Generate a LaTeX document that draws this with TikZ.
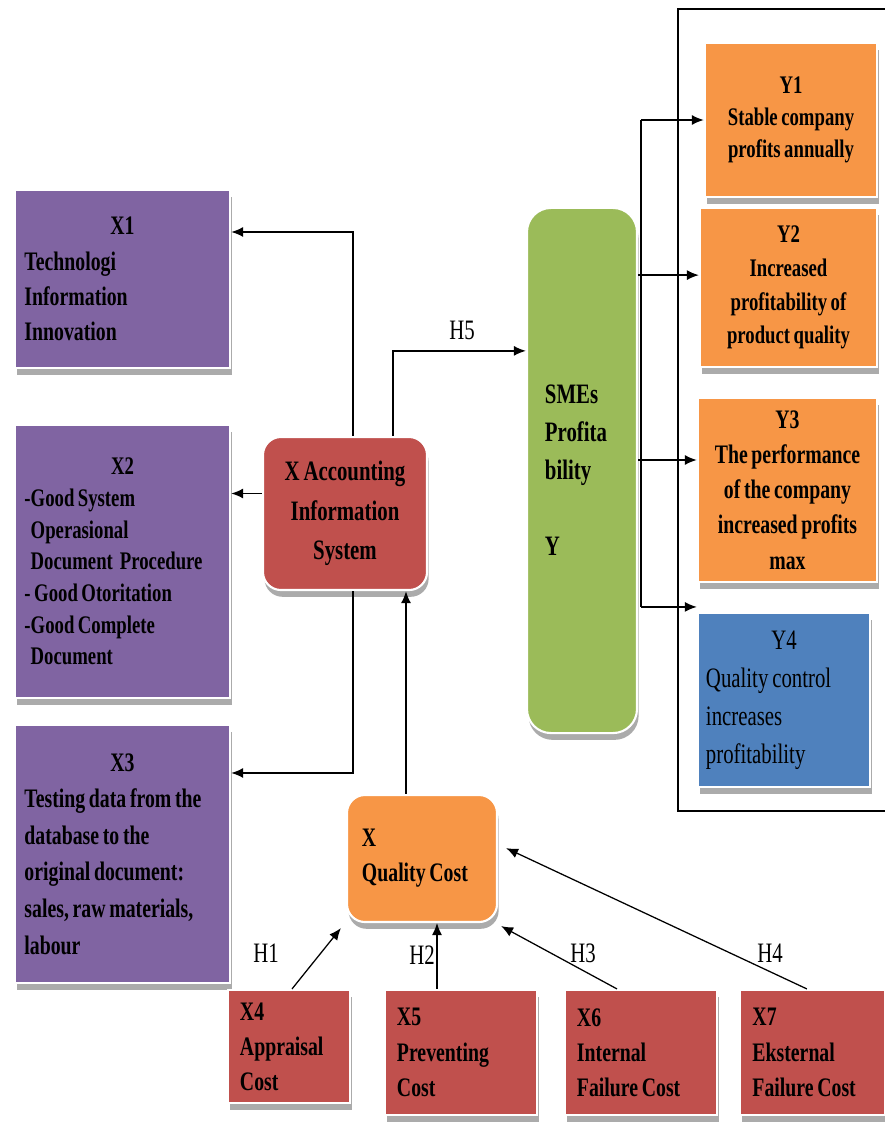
\documentclass[tikz,border=0pt]{standalone}
\usepackage{fontspec}
\setmainfont{Liberation Serif}[FakeStretch=0.74, WordSpace=0.75]
\usetikzlibrary{arrows.meta, shadows}

\definecolor{boxpurple}{HTML}{8064A2}
\definecolor{boxred}{HTML}{C0504D}
\definecolor{boxorange}{HTML}{F79646}
\definecolor{boxgreen}{HTML}{9BBB59}
\definecolor{boxblue}{HTML}{4F81BD}

\begin{document}
\begin{tikzpicture}[
    x=0.025cm, y=-0.025cm,
    box/.style={
            draw=white,
            line width=1.5pt,
            drop shadow={shadow xshift=0.04cm, shadow yshift=-0.17cm, fill=black!60, opacity=0.55},
            inner sep=0pt,
            font=\bfseries\fontsize{19}{25}\selectfont
        },
    xbox/.style={box, fill=boxpurple, minimum width=5.375cm},
    ybox/.style={box, fill=boxorange, align=center},
    costbox/.style={box, fill=boxred, minimum height=3.125cm},
    hub/.style={box, rounded corners=0.45cm},
    arrow/.style={-{Latex[length=3mm, width=2.5mm]}, line width=1.2pt},
    harrow/.style={arrow, line width=0.9pt},
    hlabel/.style={inner sep=0pt, font=\fontsize{20}{24}\selectfont},
    ]

    \path[use as bounding box, fill=white] (0,0) rectangle (885,1131);

    % --- Indicator frame ---
    \draw[line width=1.2pt] (885,9) -- (678,9) -- (678,811) -- (885,811);

    % --- X indicators ---
    \node[xbox, minimum height=4.45cm] (x1) at (122.5,279)
        {\parbox{4.9cm}{\centering X1\par\raggedright Technologi\\Information\\Innovation}};
    \node[xbox, minimum height=6.825cm, font=\bfseries\fontsize{18}{22.5}\selectfont] (x2) at (122.5,561.5)
        {\parbox{4.9cm}{\centering X2\par\raggedright -Good System\\\phantom{-}Operasional\\\phantom{-}Document~~Procedure\\- Good Otoritation\\-Good Complete\\\phantom{-}Document}};
    \node[xbox, minimum height=6.45cm, font=\bfseries\fontsize{19}{26}\selectfont] (x3) at (122.5,854)
        {\parbox{4.9cm}{\centering X3\par\raggedright Testing data from the\\database to the\\original document:\\sales, raw materials,\\labour}};

    % --- Variables ---
    \node[hub, fill=boxred, minimum width=4.1cm, minimum height=3.825cm, align=center,
        font=\bfseries\fontsize{20}{28}\selectfont] (ais) at (345,513.5) {X Accounting\\Information\\System};
    \node[hub, fill=boxorange, minimum width=3.75cm, minimum height=3.175cm] (qc) at (422,858.5)
        {\parbox{3cm}{\raggedright X\\Quality Cost}};
    \node[hub, rounded corners=0.6cm, fill=boxgreen, minimum width=2.75cm, minimum height=13.125cm,
        font=\bfseries\fontsize{20}{27}\selectfont] (sme) at (582,470.5)
        {\parbox{1.85cm}{\raggedright SMEs\\Profita\\bility\\[27pt]Y}};

    % --- Y indicators ---
    \node[ybox, minimum width=4.3cm, minimum height=3.85cm, font=\bfseries\fontsize{18}{23}\selectfont] (y1) at (791,120)
        {Y1\\Stable company\\profits annually};
    \node[ybox, minimum width=4.425cm, minimum height=3.975cm, font=\bfseries\fontsize{18}{24}\selectfont] (y2) at (788.5,287.5)
        {Y2\\Increased\\profitability of\\product quality};
    \node[ybox, minimum width=4.475cm, minimum height=4.6cm] (y3) at (787.5,490)
        {Y3\\The performance\\of the company\\increased profits\\max};
    \node[box, fill=boxblue, minimum width=4.3cm, minimum height=4.35cm, font=\fontsize{20}{27}\selectfont] (y4) at (784,700)
        {\parbox{3.9cm}{\centering Y4\par\raggedright Quality control\\increases\\profitability}};

    % --- Quality cost items ---
    \node[costbox, minimum width=3.05cm, minimum height=2.825cm] (x4) at (289,1046.5)
        {\parbox{2.45cm}{\raggedright X4\\Appraisal\\Cost}};
    \node[costbox, minimum width=3.8cm] (x5) at (461,1052.5)
        {\parbox{3.2cm}{\raggedright X5\\Preventing\\Cost}};
    \node[costbox, minimum width=3.8cm] (x6) at (641,1052.5)
        {\parbox{3.2cm}{\raggedright X6\\Internal\\Failure Cost}};
    \node[costbox, minimum width=3.625cm] (x7) at (812.5,1052.5)
        {\parbox{3cm}{\raggedright X7\\Eksternal\\Failure Cost}};

    % --- Labels ---
    \node[hlabel] (h5) at (462,330) {H5};
    \node[hlabel] (h1) at (266,953) {H1};
    \node[hlabel] (h2) at (422,955) {H2};
    \node[hlabel] (h3) at (583,953) {H3};
    \node[hlabel] (h4) at (770,953) {H4};

    % --- Arrows ---
    \draw[arrow] ([xshift=0.2cm]ais.north) |- ([yshift=1.175cm]x1.east);
    \draw[arrow] ([yshift=0.5cm]ais.west) -- ([yshift=0.5cm]ais.west -| x2.east);
    \draw[arrow] ([xshift=0.2cm]ais.south) |- ([yshift=2.025cm]x3.east);
    \draw[arrow] ([xshift=-0.4cm]qc.north) -- ([xshift=-0.4cm]qc.north |- ais.south);
    \draw[arrow] ([xshift=1.2cm]ais.north) |- ([yshift=2.99cm]sme.west);

    \coordinate[xshift=0.075cm] (trunk_top) at (sme.east |- y1.west);
    \coordinate (y4_in) at ([yshift=0.125cm]y4.north west);
    \coordinate (trunk_bot) at (trunk_top |- y4_in);
    \draw[line width=1.2pt] (trunk_top) -- (trunk_bot);
    \draw[arrow] (trunk_top) -- (y1.west);
    \draw[arrow] ([yshift=0.31cm]sme.east |- y2.west) -- ([yshift=0.31cm]y2.west);
    \draw[arrow] ([yshift=0.75cm]sme.east |- y3.west) -- ([yshift=0.75cm]y3.west);
    \draw[arrow] (trunk_bot) -- (y4_in);

    \draw[harrow] ([xshift=0.075cm]x4.north) -- ([xshift=-0.125cm, yshift=-0.125cm]qc.south west);
    \draw[harrow] ([xshift=-0.6cm]x5.north) -- ([xshift=-0.6cm]x5.north |- qc.south);
    \draw[harrow] ([xshift=-0.6cm]x6.north) -- ([xshift=0.075cm, yshift=-0.075cm]qc.south east);
    \draw[harrow] ([xshift=-0.14cm]x7.north) -- ([xshift=0.2cm, yshift=0.26cm]qc.east);

\end{tikzpicture}
\end{document}
